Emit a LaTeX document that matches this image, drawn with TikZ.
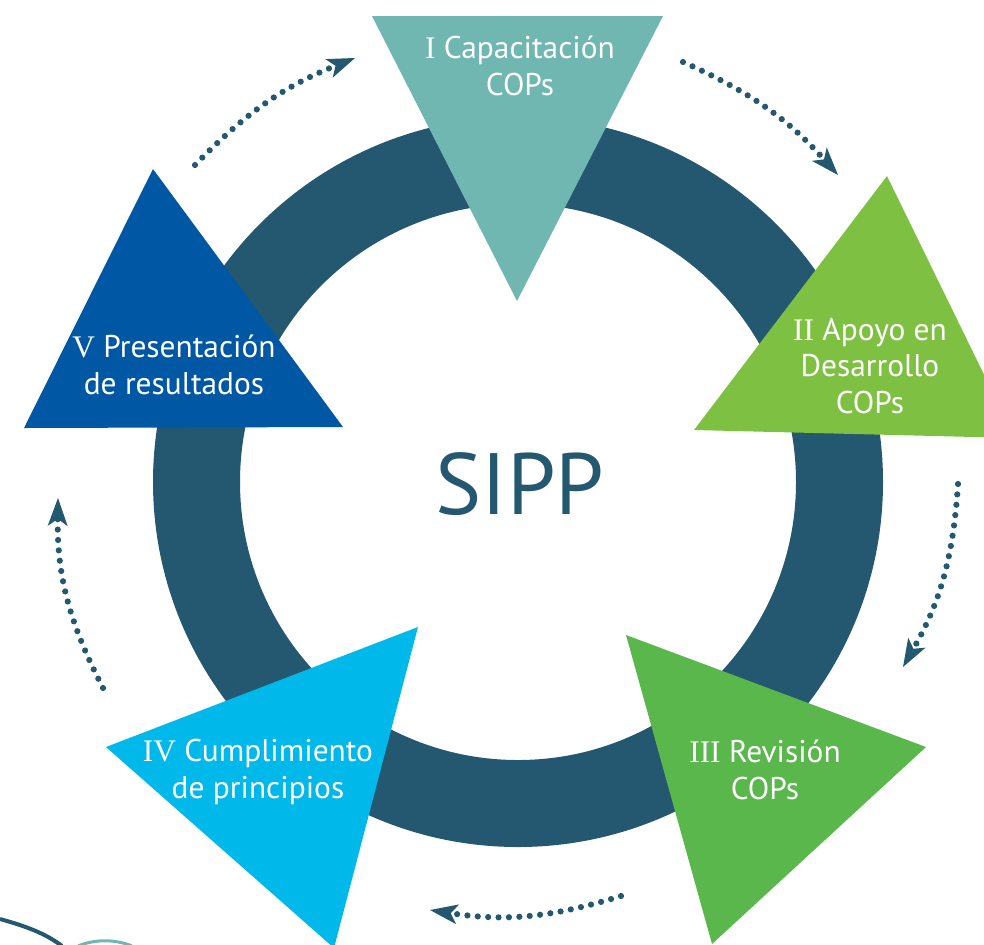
\documentclass[tikz,border=0pt]{standalone}
\usepackage{fontspec}
\setmainfont{PT Sans}
\newfontfamily\numfont{Liberation Serif}
\usetikzlibrary{arrows.meta}
\definecolor{ringblue}{RGB}{36,88,112}
\definecolor{capteal}{RGB}{111,183,176}
\definecolor{apoyogreen}{RGB}{126,193,66}
\definecolor{revgreen}{RGB}{90,183,75}
\definecolor{cumpcyan}{RGB}{0,185,234}
\definecolor{presblue}{RGB}{0,87,164}
\tikzset{
	stage/.style={text=white,align=center,font=\fontsize{15.7}{18.4}\selectfont},
	flow/.style={ringblue,line width=3.1pt,line cap=round,dash pattern=on 0pt off 5.2pt,
		-{Stealth[length=14pt,width=10pt,inset=3.5pt,line width=0pt]}}
}
\begin{document}
\begin{tikzpicture}[x=0.5pt,y=-0.5pt,line join=round]
			\useasboundingbox (0,0) rectangle (984,944);
			\clip (0,0) rectangle (984,944);
			\path
			(518,482) coordinate (O)
			% corners of the five stages
			(372,16) coordinate (I_1) (663,16) coordinate (I_2) (517,301) coordinate (I_3)
			(887,176) coordinate (II_1) (1015,438) coordinate (II_2) (694,430) coordinate (II_3)
			(626,635) coordinate (III_1) (926,747) coordinate (III_2) (712,944) coordinate (III_3)
			(418,627) coordinate (IV_1) (334,948) coordinate (IV_2) (106,747) coordinate (IV_3)
			(153,169) coordinate (V_1) (343,427) coordinate (V_2) (24,428) coordinate (V_3)
			% ends of the dotted arrows
			(195,165) coordinate (F_1) (355,58) coordinate (G_1)
			(683,62) coordinate (F_2) (838,175) coordinate (G_2)
			(958,484) coordinate (F_3) (903,667) coordinate (G_3)
			(621,896) coordinate (F_4) (430,910) coordinate (G_4)
			(103,688) coordinate (F_5) (58,498) coordinate (G_5)
			;
			\draw[ringblue,line width=43.5pt] (O) circle (160.75pt);
			\foreach \a/\b/\c/\col in
			{
				I_1/I_2/I_3/capteal,
				II_1/II_2/II_3/apoyogreen,
				III_1/III_2/III_3/revgreen,
				IV_1/IV_2/IV_3/cumpcyan,
				V_1/V_2/V_3/presblue}
			{\fill[\col] (\a)--(\b)--(\c)--cycle;}
			\foreach \i/\b in {1/12,2/12,3/13,4/13,5/14}
			{\draw[flow] (F_\i) to[bend left=\b] (G_\i);}
			\node[stage] (capac) at (520,66) {{\numfont I} Capacitación\\COPs};
			\node[stage] (apoyo) at (870,366) {{\numfont II} Apoyo en\\Desarrollo\\COPs};
			\node[stage] (revis) at (765,770) {{\numfont III} Revisión\\COPs};
			\node[stage] (cumpl) at (258,772) {{\numfont IV} Cumplimiento\\de principios};
			\node[stage] (prese) at (174,365) {{\numfont V} Presentación\\de resultados};
			\node[text=ringblue,font=\fontsize{43.5}{50}\selectfont] (sipp) at (520,484) {SIPP};
			% pieces cut by the page edge
			\draw[ringblue,line width=2pt] (0,919) .. controls (25,926) and (45,933) .. (62,946);
			\draw[capteal,line width=1.5pt] (78,946) .. controls (95,939) and (115,939) .. (132,946);
		\end{tikzpicture}
\end{document}
